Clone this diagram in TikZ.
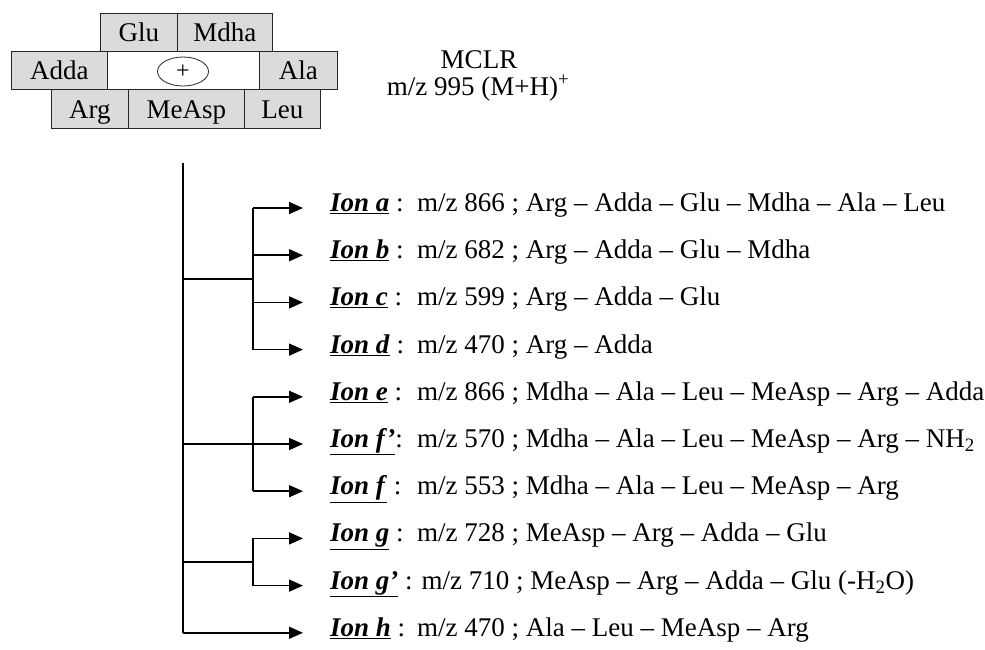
\documentclass[tikz,border=0pt]{standalone}
\usepackage{fontspec}
\setmainfont{Liberation Serif}
\usetikzlibrary{arrows.meta,shapes.geometric}
\newcommand\ionlab[1]{\underline{\textbf{\textit{#1}}}}
\newcommand\ionrow[2]{\makebox[87pt][l]{#1}#2}
\begin{document}
\begin{tikzpicture}[x=1pt,y=-1pt,
  every node/.style={font=\fontsize{27}{31}\selectfont},
  res/.style={draw=black!85, fill=gray!28, line width=0.8pt, minimum height=38pt,
    inner sep=0pt, text height=19pt, text depth=0pt, anchor=north west},
  ring/.style={draw=black!85, fill=white, line width=0.8pt, minimum height=38pt,
    inner sep=0pt, anchor=north west},
  ionline/.style={anchor=base west, inner sep=0pt},
  conn/.style={line width=1.5pt},
  arr/.style={conn, -{Triangle[length=14pt,width=12pt]}}]
\useasboundingbox (0,0) rectangle (985,649);

% peptide ring
\node[res, minimum width=77pt] (glu) at (100,13) {Glu};
\node[res, minimum width=95pt] (mdha) at (177,13) {Mdha};
\node[res, minimum width=96pt] (adda) at (11,51) {Adda};
\node[ring, minimum width=152pt] (core) at (107,51) {};
\node[res, minimum width=78pt] (ala) at (259,51) {Ala};
\node[res, minimum width=77pt, minimum height=39pt] (arg) at (51,89) {Arg};
\node[res, minimum width=116pt, minimum height=39pt] (measp) at (128,89) {MeAsp};
\node[res, minimum width=76pt, minimum height=39pt] (leu) at (244,89) {Leu};
\node[draw=black!85, line width=0.8pt, ellipse, minimum width=51pt, minimum height=29pt,
  inner sep=0pt, font=\fontsize{24}{26}\selectfont] (plus) at (183,71.5) {+};

% title
\node[anchor=base] (mclr) at (479,68) {MCLR};
\node[anchor=base] (mz) at (478,95) {m/z 995 (M+H)\textsuperscript{+}};

% text lines
\node[ionline] (ta) at (330,211.5) {\ionrow{\ionlab{Ion a} :}{m/z 866 ; Arg -- Adda -- Glu -- Mdha -- Ala -- Leu}};
\node[ionline] (tb) at (330,258.7) {\ionrow{\ionlab{Ion b} :}{m/z 682 ; Arg -- Adda -- Glu -- Mdha}};
\node[ionline] (tc) at (330,305.9) {\ionrow{\ionlab{Ion c} :}{m/z 599 ; Arg -- Adda -- Glu}};
\node[ionline] (td) at (330,353.1) {\ionrow{\ionlab{Ion d} :}{m/z 470 ; Arg -- Adda}};
\node[ionline] (te) at (330,400.3) {\ionrow{\ionlab{Ion e} :}{m/z 866 ; Mdha -- Ala -- Leu -- MeAsp -- Arg -- Adda}};
\node[ionline] (tfp) at (330,447.5) {\ionrow{\ionlab{Ion f'}:}{m/z 570 ; Mdha -- Ala -- Leu -- MeAsp -- Arg -- NH\textsubscript{2}}};
\node[ionline] (tf) at (330,494.7) {\ionrow{\ionlab{Ion f} :}{m/z 553 ; Mdha -- Ala -- Leu -- MeAsp -- Arg}};
\node[ionline] (tg) at (330,541.9) {\ionrow{\ionlab{Ion g} :}{m/z 728 ; MeAsp -- Arg -- Adda -- Glu}};
\node[ionline] (tgp) at (330,589.1) {\ionlab{Ion g'} : m/z 710 ; MeAsp -- Arg -- Adda -- Glu (-H\textsubscript{2}O)};
\node[ionline] (th) at (330,636.3) {\ionrow{\ionlab{Ion h} :}{m/z 470 ; Ala -- Leu -- MeAsp -- Arg}};

% tree coordinates
\coordinate (top) at (183,163);
\coordinate (bot) at (183,632.8);
\coordinate (j1) at (183,278.8);
\coordinate (k1) at (253,278.8);
\coordinate (j2) at (183,444);
\coordinate (j3) at (183,562.0);
\coordinate (k3) at (253,562.0);
\coordinate (sa) at (253,208);   \coordinate (pa) at (303,208);
\coordinate (sb) at (253,255.2); \coordinate (pb) at (303,255.2);
\coordinate (sc) at (253,302.4); \coordinate (pc) at (303,302.4);
\coordinate (sd) at (253,349.6); \coordinate (pd) at (303,349.6);
\coordinate (se) at (253,396.8); \coordinate (pe) at (303,396.8);
\coordinate (pfp) at (303,444);
\coordinate (sf) at (253,491.2); \coordinate (pf) at (303,491.2);
\coordinate (sg) at (253,538.4); \coordinate (pg) at (303,538.4);
\coordinate (sgp) at (253,585.6); \coordinate (pgp) at (303,585.6);
\coordinate (ph) at (303,632.8);

% connectors
\draw[conn] (top) -- (bot);
\draw[conn] (j1) -- (k1);
\draw[conn] (sa) -- (sd);
\draw[arr] (sa) -- (pa);
\draw[arr] (sb) -- (pb);
\draw[arr] (sc) -- (pc);
\draw[arr] (sd) -- (pd);
\draw[conn] (se) -- (sf);
\draw[arr] (j2) -- (pfp);
\draw[arr] (se) -- (pe);
\draw[arr] (sf) -- (pf);
\draw[conn] (j3) -- (k3);
\draw[conn] (sg) -- (sgp);
\draw[arr] (sg) -- (pg);
\draw[arr] (sgp) -- (pgp);
\draw[arr] (bot) -- (ph);
\end{tikzpicture}
\end{document}
